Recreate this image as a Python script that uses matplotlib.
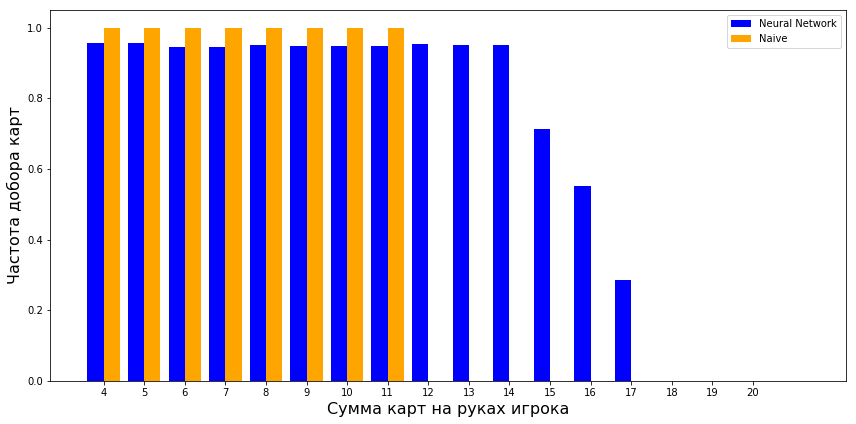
import matplotlib
matplotlib.use("Agg")
import matplotlib.pyplot as plt
import numpy as np

sums = list(range(4, 21))
neural = [0.957, 0.957, 0.946, 0.946, 0.952, 0.949, 0.949, 0.949, 0.955, 0.952, 0.952,
          0.714, 0.552, 0.286, 0.0, 0.0, 0.0]
naive = [1.0, 1.0, 1.0, 1.0, 1.0, 1.0, 1.0, 1.0, 0, 0, 0, 0, 0, 0, 0, 0, 0]

fig = plt.figure(figsize=(856/72, 424/72), dpi=72)
ax = fig.add_axes([50/856, 1-381/424, (846-50)/856, (381-10)/424])
x = np.array(sums)
ax.bar(x - 0.2, neural, width=0.4, color='blue', label='Neural Network')
ax.bar(x + 0.2, naive, width=0.4, color='orange', label='Naive')
ax.set_xticks(sums)
ax.set_xlim(2.68, 22.29)
ax.set_ylim(0, 1.05)
ax.set_xlabel('Сумма карт на руках игрока', fontsize=16)
ax.set_ylabel('Частота добора карт', fontsize=16)
ax.legend(loc='upper right')
fig.savefig('out.png', dpi=72)
